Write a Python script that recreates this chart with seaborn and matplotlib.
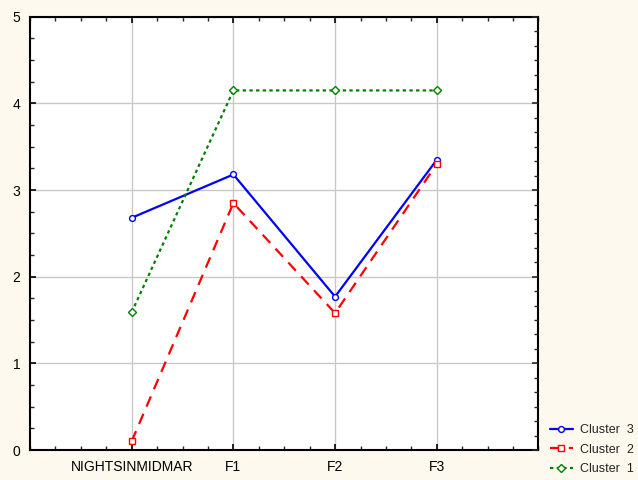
import matplotlib
matplotlib.use("Agg")
import matplotlib.pyplot as plt
import seaborn as sns
import pandas as pd
from matplotlib.ticker import MultipleLocator

sns.set_theme(style="white")
plt.rcParams['font.family'] = ['Liberation Sans', 'DejaVu Sans']

categories = ["NIGHTSINMIDMAR", "F1", "F2", "F3"]
cluster3 = [2.68, 3.18, 1.77, 3.35]
cluster2 = [0.10, 2.85, 1.58, 3.30]
cluster1 = [1.59, 4.15, 4.15, 4.15]
series_names = ["Cluster  3", "Cluster  2", "Cluster  1"]

fig = plt.figure(figsize=(6.38, 4.8), dpi=100, facecolor="#FDF9EE")
ax = fig.add_axes([0.047, 0.0625, 0.797, 0.9025])
ax.set_facecolor("white")

pos = list(range(len(categories)))
styles = [
    dict(color="#0000FF", marker="o", linestyle="-", ms=4.2),
    dict(color="#FF0000", marker="s", linestyle=(0, (5, 3.5)), ms=4.2),
    dict(color="#008000", marker="D", linestyle=(0, (1.5, 1.5)), ms=3.8),
]
for name, vals, st in zip(series_names, [cluster3, cluster2, cluster1], styles):
    df = pd.DataFrame({"x": pos, "y": vals})
    sns.lineplot(data=df, x="x", y="y", ax=ax, color=st["color"], linewidth=1.6,
                 linestyle=st["linestyle"], marker=st["marker"],
                 markersize=st["ms"],
                 markerfacecolor="white", markeredgecolor=st["color"],
                 markeredgewidth=1.0, label=name)

ax.set_xlim(-1, 4)
ax.set_ylim(0, 5)
ax.set_xticks(pos)
ax.set_xticklabels(categories)
ax.xaxis.set_minor_locator(MultipleLocator(0.25))
ax.set_yticks([0, 1, 2, 3, 4, 5])
ax.yaxis.set_minor_locator(MultipleLocator(0.25))
ax.grid(True, which="major", color="#C8C8C8", linewidth=1.0)
ax.set_axisbelow(True)
ax.set_xlabel("")
ax.set_ylabel("")
for s in ax.spines.values():
    s.set_color("black")
    s.set_linewidth(1.5)
ax.tick_params(axis="both", which="major", direction="in", length=4, width=1.2,
               colors="black", labelsize=10, top=True, right=False, bottom=True, left=True)
ax.tick_params(axis="both", which="minor", direction="in", length=3, width=1.0,
               top=True, right=False, bottom=True, left=True)
ax.tick_params(axis="x", which="major", pad=7)
ax.tick_params(axis="y", which="major", pad=7)

# right-axis tick marks
ax2 = ax.twinx()
ax2.set_ylim(0, 5)
ax2.yaxis.set_major_locator(MultipleLocator(1))
ax2.yaxis.set_minor_locator(MultipleLocator(1/6))
ax2.tick_params(axis="y", which="both", left=False, labelleft=False, right=True, labelright=False)
ax2.tick_params(axis="y", which="major", direction="in", length=4, width=1.2)
ax2.tick_params(axis="y", which="minor", direction="in", length=3, width=1.0)
for s in ax2.spines.values():
    s.set_visible(False)

handles, labels = ax.get_legend_handles_labels()
ax.legend(handles, labels, loc="lower left", bbox_to_anchor=(1.012, -0.07),
          frameon=False, fontsize=9, handlelength=1.9, handletextpad=0.55,
          labelspacing=0.6, borderaxespad=0)

fig.savefig("out.png", dpi=100, facecolor=fig.get_facecolor())
